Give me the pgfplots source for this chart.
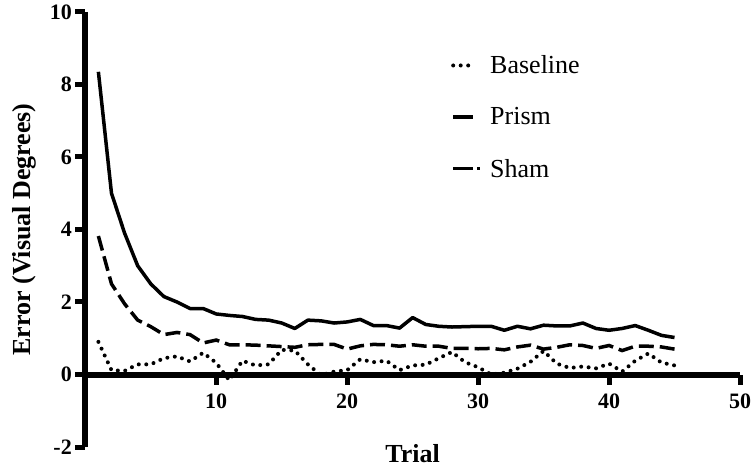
\documentclass[border=0pt]{standalone}
\usepackage{pgfplots}
\pgfplotsset{compat=1.18}
\usepackage{fontspec}
\setmainfont{Liberation Serif}

\pgfplotsset{
	shamlegend/.style={
			legend image code/.code={\draw[##1, dash pattern=on 20pt off 4pt] (0pt,0pt) -- (27pt,0pt); \path (33pt,0pt);}
		},
}

\begin{document}
\begin{tikzpicture}
	\begin{axis}[
			scale only axis,
			width=654.7pt, height=435pt,
			xmin=0, xmax=50,
			ymin=-2, ymax=10,
			axis x line=middle, axis y line=left,
			axis line style={-, line width=6pt, black},
			every inner x axis line/.append style={-},
			every outer y axis line/.append style={-},
			xtick={10,20,30,40,50},
			xticklabels={10,20,30,40,50},
			ytick={-2,0,2,4,6,8,10},
			yticklabels={-2,0,2,4,6,8,10},
			tick align=outside,
			major tick length=10pt,
			tick style={line width=5pt, black},
			ticklabel style={font=\fontsize{22}{24}\selectfont\bfseries},
			xticklabel style={yshift=-6pt},
			xlabel={Trial},
			ylabel={Error (Visual Degrees)},
			label style={font=\fontsize{26}{28}\selectfont\bfseries},
			xlabel style={at={([yshift=-15pt]axis description cs:0.5,0)}, anchor=base},
			ylabel style={at={([xshift=-55pt]axis description cs:0,0.5)}, anchor=base},
			legend style={at={(axis cs:27.7,8.91)}, anchor=north west, draw=none, fill=none,
					font=\fontsize{26}{28}\selectfont, row sep=28.5pt},
			legend cell align=left,
			legend image code/.code={\draw[#1] (0pt,0pt) -- (20pt,0pt); \path (33pt,0pt);},
			clip=false,
		]
		\coordinate (bl) at (rel axis cs:0,0);
		\coordinate (tr) at (rel axis cs:1,1);

		% baseline
		\addplot[black, line width=4pt, line cap=round, dash pattern=on 0pt off 7.5pt]
		coordinates {
				(1,0.9)(2,0.12)(3,0.1)(4,0.28)(5,0.28)(6,0.45)(7,0.5)(8,0.36)(9,0.6)(10,0.32)
				(11,-0.16)(12,0.38)(13,0.25)(14,0.28)(15,0.68)(16,0.66)(17,0.28)(18,-0.02)(19,0.08)(20,0.12)
				(21,0.42)(22,0.34)(23,0.38)(24,0.12)(25,0.25)(26,0.27)(27,0.45)(28,0.62)(29,0.34)(30,0.2)
				(31,0.0)(32,0.05)(33,0.16)(34,0.35)(35,0.65)(36,0.3)(37,0.18)(38,0.22)(39,0.17)(40,0.3)
				(41,0.08)(42,0.38)(43,0.58)(44,0.33)(45,0.25)
			};
		\addlegendentry{Baseline}

		% prism
		\addplot[black, line width=3.5pt, line join=round]
		coordinates {
				(1,8.35)(2,5.0)(3,3.9)(4,3.0)(5,2.5)(6,2.15)(7,2.0)(8,1.82)(9,1.82)(10,1.67)
				(11,1.63)(12,1.6)(13,1.52)(14,1.5)(15,1.42)(16,1.27)(17,1.5)(18,1.48)(19,1.42)(20,1.45)
				(21,1.52)(22,1.35)(23,1.35)(24,1.28)(25,1.57)(26,1.38)(27,1.33)(28,1.31)(29,1.32)(30,1.33)
				(31,1.33)(32,1.22)(33,1.33)(34,1.26)(35,1.36)(36,1.34)(37,1.34)(38,1.42)(39,1.27)(40,1.22)
				(41,1.27)(42,1.35)(43,1.22)(44,1.08)(45,1.02)
			};
		\addlegendentry{Prism}

		% sham
		\addplot[black, line width=3.5pt, dash pattern=on 15pt off 6pt, shamlegend]
		coordinates {
				(1,3.82)(2,2.5)(3,1.95)(4,1.5)(5,1.32)(6,1.1)(7,1.16)(8,1.1)(9,0.87)(10,0.95)
				(11,0.82)(12,0.82)(13,0.81)(14,0.79)(15,0.77)(16,0.75)(17,0.82)(18,0.83)(19,0.83)(20,0.7)
				(21,0.79)(22,0.83)(23,0.82)(24,0.78)(25,0.82)(26,0.78)(27,0.78)(28,0.72)(29,0.72)(30,0.71)
				(31,0.72)(32,0.68)(33,0.76)(34,0.81)(35,0.7)(36,0.75)(37,0.82)(38,0.8)(39,0.72)(40,0.8)
				(41,0.66)(42,0.78)(43,0.78)(44,0.76)(45,0.7)
			};
		\addlegendentry{Sham}
	\end{axis}
	\pgfresetboundingbox
	\path ([shift={(-85.3pt,-21pt)}]bl) rectangle ([shift={(16pt,12pt)}]tr);
\end{tikzpicture}
\end{document}
